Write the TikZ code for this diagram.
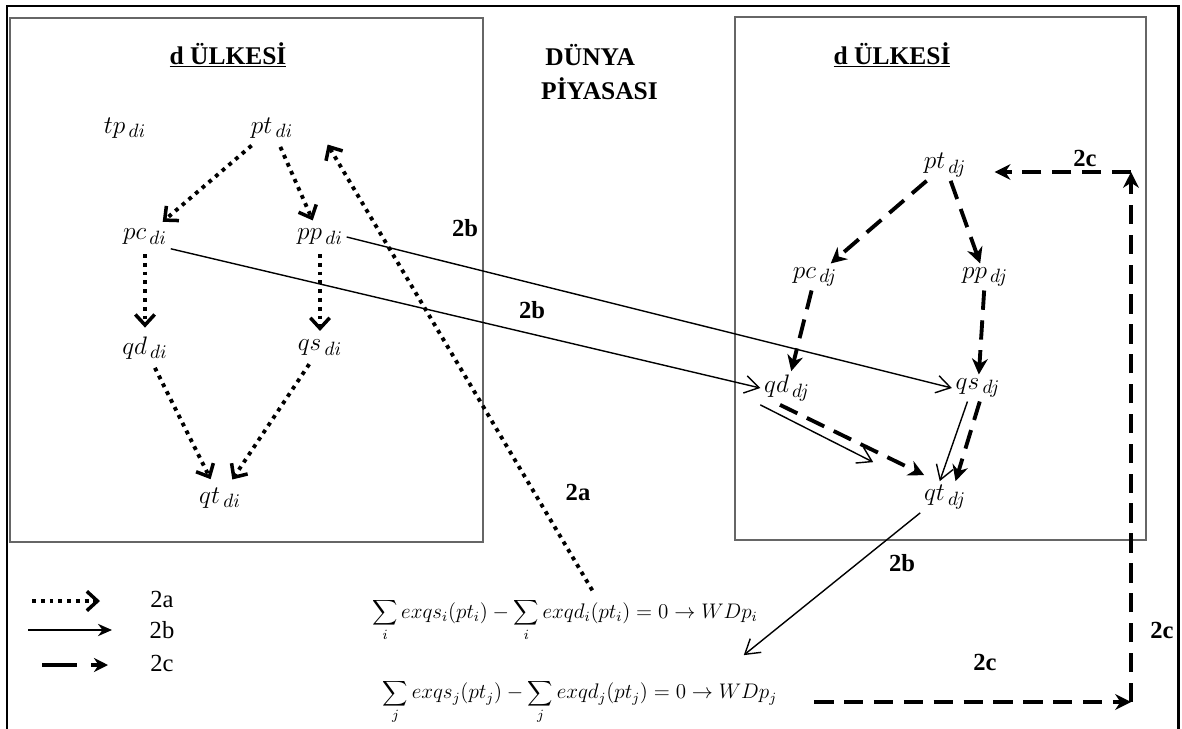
\documentclass[tikz,border=0pt]{standalone}
\usepackage{fontspec}
\setmainfont{Liberation Serif}
\usetikzlibrary{arrows.meta,calc}

\newcommand{\lbl}[2]{$#1_{\,#2}$}

\begin{document}
\begin{tikzpicture}[
	x=0.02cm, y=-0.02cm,
	font=\fontsize{14}{16}\selectfont,
	varnode/.style={inner sep=2pt, font=\fontsize{15}{17}\selectfont},
	heading/.style={font=\fontsize{14.5}{19}\selectfont\bfseries, align=left},
	flowlbl/.style={font=\fontsize{14}{16}\selectfont\bfseries},
	legtxt/.style={font=\fontsize{14}{16}\selectfont},
	eqnode/.style={inner sep=1pt, font=\fontsize{11.5}{14}\selectfont},
	panel/.style={draw=gray!80!black, line width=1.1pt},
	dotarr/.style={line width=2.2pt, dash pattern=on 2.2pt off 2.8pt, -{Straight Barb[length=6pt,width=11pt,line width=2pt]}, shorten >=3pt, shorten <=3pt},
	solarr/.style={line width=0.8pt, -{Straight Barb[length=8pt,width=10pt,line width=0.8pt]}},
	dasharr/.style={line width=2.2pt, dash pattern=on 11pt off 6pt, -{Stealth[length=9pt,width=9pt]}}
]
\useasboundingbox (0,0) rectangle (1182,729);

% --- frames ---
\draw[line width=1.7pt] (7,760) -- (7,6) -- (1178,6) -- (1178,760);
\draw[panel] (10,18) rectangle (483,542);
\draw[panel] (735,17) rectangle (1146,540);

% --- headings ---
\node[heading] (titlei) at (228,55) {\underline{d ÜLKESİ}};
\node[heading] (titlej) at (892,55) {\underline{d ÜLKESİ}};
\node[heading, anchor=west] (world) at (535,72) {\,DÜNYA\\PİYASASI};

% --- country i ---
\node[varnode] (tpdi) at (125,128) {\lbl{tp}{di}};
\node[varnode] (ptdi) at (272,128) {\lbl{pt}{di}};
\node[varnode] (pcdi) at (145,237) {\lbl{pc}{di}};
\node[varnode] (ppdi) at (320,237) {\lbl{pp}{di}};
\node[varnode] (qddi) at (145,348) {\lbl{qd}{di}};
\node[varnode] (qsdi) at (320,348) {\lbl{qs}{di}};
\node[varnode] (qtdi) at (220,498) {\lbl{qt}{di}};

\foreach \a/\b in {ptdi/pcdi, ptdi/ppdi, pcdi/qddi, ppdi/qsdi, qddi/qtdi, qsdi/qtdi}
  \draw[dotarr] (\a) -- (\b);

% --- country j ---
\node[varnode] (ptdj) at (945,165) {\lbl{pt}{dj}};
\node[varnode] (pcdj) at (815,277) {\lbl{pc}{dj}};
\node[varnode] (ppdj) at (985,277) {\lbl{pp}{dj}};
\node[varnode] (qddj) at (787,388) {\lbl{qd}{dj}};
\node[varnode] (qsdj) at (978,388) {\lbl{qs}{dj}};
\node[varnode] (qtdj) at (945,497) {\lbl{qt}{dj}};

\foreach \a/\b in {ptdj/pcdj, ptdj/ppdj, pcdj/qddj, ppdj/qsdj}
  \draw[dasharr] (\a) -- (\b);
\draw[dasharr] ([xshift=-4pt]qddj.south) -- ([shift={(4,-6)}]qtdj.north west);
\draw[dasharr] ([xshift=1pt]qsdj.south) -- ([xshift=6pt]qtdj.north);

% --- world market ---
\node[eqnode] (eqi) at (565,620) {$\displaystyle\sum_i exqs_i(pt_i)-\sum_i exqd_i(pt_i)=0\rightarrow WDp_i$};
\node[eqnode] (eqj) at (580,702) {$\displaystyle\sum_j exqs_j(pt_j)-\sum_j exqd_j(pt_j)=0\rightarrow WDp_j$};

% 2b
\draw[solarr] (pcdi.south east) -- (qddj.west);
\draw[solarr] (ppdi.east) -- (qsdj.west);
\draw[solarr] (qddj.south west) -- ([shift={(-47,-19)}]qtdj.north west);
\draw[solarr] ([xshift=-6pt]qsdj.south) -- ([xshift=-3pt]qtdj.north);
\draw[solarr] (qtdj.south west) -- ([shift={(-16,12)}]eqi.south east);
\node[flowlbl] (lb1) at (465,228) {2b};
\node[flowlbl] (lb2) at (532,310) {2b};
\node[flowlbl] (lb3) at (902,563) {2b};

% 2a
\draw[dotarr] ([shift={(30,-2)}]eqi.north) -- ([shift={(28,12)}]ptdi.east);
\node[flowlbl] (la1) at (578,492) {2a};

% 2c
\coordinate (cbot) at (1131,702);
\coordinate (ctop) at (1131,172);
\draw[dasharr] ([shift={(35,0)}]eqj.east) -- (cbot);
\draw[dasharr] (cbot) -- (ctop);
\draw[dasharr, shorten >=14pt] (ctop) -- (ptdj.east |- ctop);
\node[flowlbl] (lc1) at (1085,158) {2c};
\node[flowlbl] (lc2) at (1162,630) {2c};
\node[flowlbl] (lc3) at (985,662) {2c};

% --- legend ---
\coordinate (ka0) at (32,601);  \coordinate (ka1) at (100,601);
\coordinate (kb0) at (28,630);  \coordinate (kb1) at (112,630);
\coordinate (kc0) at (42,665);  \coordinate (kc1) at (108,665);
\draw[dotarr, shorten <=0pt, shorten >=0pt] (ka0) -- (ka1);
\draw[line width=1pt, -{Stealth[length=8pt,width=7pt]}] (kb0) -- (kb1);
\draw[line width=2.2pt, dash pattern=on 20pt off 8pt, -{Stealth[length=8pt,width=8pt]}] (kc0) -- (kc1);
\node[legtxt] (ta) at (162,599) {2a};
\node[legtxt] (tb) at (162,630) {2b};
\node[legtxt] (tc) at (162,663) {2c};

\end{tikzpicture}
\end{document}
